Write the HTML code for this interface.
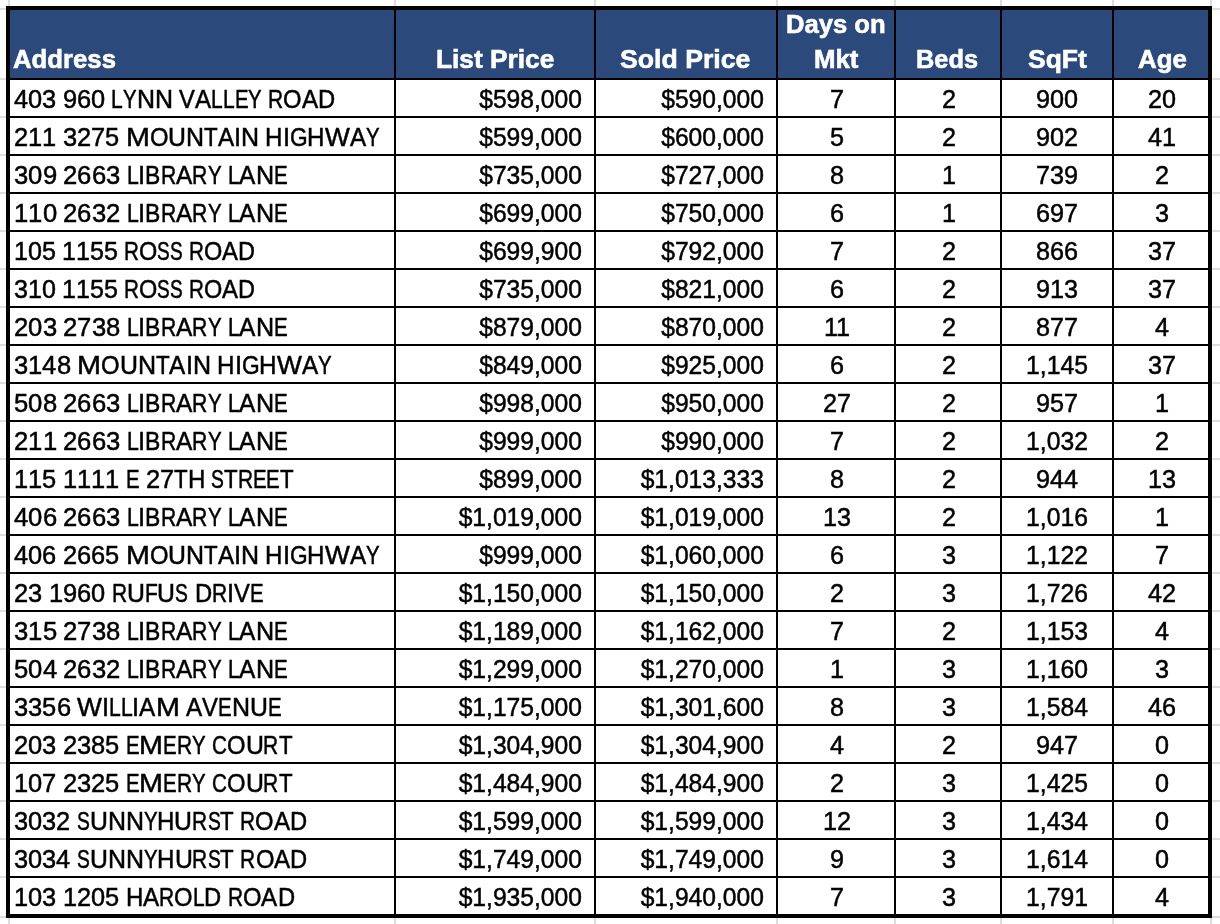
<!DOCTYPE html>
<html><head><meta charset="utf-8"><style>
html,body{margin:0;padding:0;background:#fff;}
body{width:1220px;height:924px;position:relative;overflow:hidden;font-family:"Liberation Sans",sans-serif;}
.r{position:absolute;}
.t{position:absolute;white-space:nowrap;color:#000;font-size:26px;line-height:38px;height:38px;}
.a{position:absolute;left:0;height:38px;width:1px;font-size:26px;line-height:38px;color:#000;}
.a i{position:absolute;top:0;font-style:normal;transform-origin:0 0;white-space:pre;}
.h{position:absolute;white-space:nowrap;color:#fff;font-weight:bold;font-size:26px;line-height:34px;}
body{-webkit-font-smoothing:antialiased;} .t,.a{-webkit-text-stroke:0.5px #000;} .h{-webkit-text-stroke:0.6px #fff;} .wrap{will-change:transform}
</style></head><body><div class="wrap" style="position:absolute;left:0;top:0;width:1220px;height:924px">

<div class="r" style="left:0px;top:8px;width:6px;height:2px;background:#dbdedb"></div>
<div class="r" style="left:1212px;top:8px;width:8px;height:2px;background:#dbdedb"></div>
<div class="r" style="left:8px;top:0px;width:2px;height:6px;background:#dbdedb"></div>
<div class="r" style="left:8px;top:918px;width:2px;height:6px;background:#dbdedb"></div>
<div class="r" style="left:394px;top:0px;width:2px;height:6px;background:#dbdedb"></div>
<div class="r" style="left:394px;top:918px;width:2px;height:6px;background:#dbdedb"></div>
<div class="r" style="left:594px;top:0px;width:2px;height:6px;background:#dbdedb"></div>
<div class="r" style="left:594px;top:918px;width:2px;height:6px;background:#dbdedb"></div>
<div class="r" style="left:776px;top:0px;width:2px;height:6px;background:#dbdedb"></div>
<div class="r" style="left:776px;top:918px;width:2px;height:6px;background:#dbdedb"></div>
<div class="r" style="left:894px;top:0px;width:2px;height:6px;background:#dbdedb"></div>
<div class="r" style="left:894px;top:918px;width:2px;height:6px;background:#dbdedb"></div>
<div class="r" style="left:1000px;top:0px;width:2px;height:6px;background:#dbdedb"></div>
<div class="r" style="left:1000px;top:918px;width:2px;height:6px;background:#dbdedb"></div>
<div class="r" style="left:1112px;top:0px;width:2px;height:6px;background:#dbdedb"></div>
<div class="r" style="left:1112px;top:918px;width:2px;height:6px;background:#dbdedb"></div>
<div class="r" style="left:1210px;top:0px;width:2px;height:6px;background:#dbdedb"></div>
<div class="r" style="left:1210px;top:918px;width:2px;height:6px;background:#dbdedb"></div>
<div class="r" style="left:0px;top:116px;width:6px;height:2px;background:#dbdedb"></div>
<div class="r" style="left:1212px;top:116px;width:8px;height:2px;background:#dbdedb"></div>
<div class="r" style="left:0px;top:154px;width:6px;height:2px;background:#dbdedb"></div>
<div class="r" style="left:1212px;top:154px;width:8px;height:2px;background:#dbdedb"></div>
<div class="r" style="left:0px;top:192px;width:6px;height:2px;background:#dbdedb"></div>
<div class="r" style="left:1212px;top:192px;width:8px;height:2px;background:#dbdedb"></div>
<div class="r" style="left:0px;top:230px;width:6px;height:2px;background:#dbdedb"></div>
<div class="r" style="left:1212px;top:230px;width:8px;height:2px;background:#dbdedb"></div>
<div class="r" style="left:0px;top:268px;width:6px;height:2px;background:#dbdedb"></div>
<div class="r" style="left:1212px;top:268px;width:8px;height:2px;background:#dbdedb"></div>
<div class="r" style="left:0px;top:306px;width:6px;height:2px;background:#dbdedb"></div>
<div class="r" style="left:1212px;top:306px;width:8px;height:2px;background:#dbdedb"></div>
<div class="r" style="left:0px;top:344px;width:6px;height:2px;background:#dbdedb"></div>
<div class="r" style="left:1212px;top:344px;width:8px;height:2px;background:#dbdedb"></div>
<div class="r" style="left:0px;top:382px;width:6px;height:2px;background:#dbdedb"></div>
<div class="r" style="left:1212px;top:382px;width:8px;height:2px;background:#dbdedb"></div>
<div class="r" style="left:0px;top:420px;width:6px;height:2px;background:#dbdedb"></div>
<div class="r" style="left:1212px;top:420px;width:8px;height:2px;background:#dbdedb"></div>
<div class="r" style="left:0px;top:458px;width:6px;height:2px;background:#dbdedb"></div>
<div class="r" style="left:1212px;top:458px;width:8px;height:2px;background:#dbdedb"></div>
<div class="r" style="left:0px;top:496px;width:6px;height:2px;background:#dbdedb"></div>
<div class="r" style="left:1212px;top:496px;width:8px;height:2px;background:#dbdedb"></div>
<div class="r" style="left:0px;top:534px;width:6px;height:2px;background:#dbdedb"></div>
<div class="r" style="left:1212px;top:534px;width:8px;height:2px;background:#dbdedb"></div>
<div class="r" style="left:0px;top:572px;width:6px;height:2px;background:#dbdedb"></div>
<div class="r" style="left:1212px;top:572px;width:8px;height:2px;background:#dbdedb"></div>
<div class="r" style="left:0px;top:610px;width:6px;height:2px;background:#dbdedb"></div>
<div class="r" style="left:1212px;top:610px;width:8px;height:2px;background:#dbdedb"></div>
<div class="r" style="left:0px;top:648px;width:6px;height:2px;background:#dbdedb"></div>
<div class="r" style="left:1212px;top:648px;width:8px;height:2px;background:#dbdedb"></div>
<div class="r" style="left:0px;top:686px;width:6px;height:2px;background:#dbdedb"></div>
<div class="r" style="left:1212px;top:686px;width:8px;height:2px;background:#dbdedb"></div>
<div class="r" style="left:0px;top:724px;width:6px;height:2px;background:#dbdedb"></div>
<div class="r" style="left:1212px;top:724px;width:8px;height:2px;background:#dbdedb"></div>
<div class="r" style="left:0px;top:762px;width:6px;height:2px;background:#dbdedb"></div>
<div class="r" style="left:1212px;top:762px;width:8px;height:2px;background:#dbdedb"></div>
<div class="r" style="left:0px;top:800px;width:6px;height:2px;background:#dbdedb"></div>
<div class="r" style="left:1212px;top:800px;width:8px;height:2px;background:#dbdedb"></div>
<div class="r" style="left:0px;top:838px;width:6px;height:2px;background:#dbdedb"></div>
<div class="r" style="left:1212px;top:838px;width:8px;height:2px;background:#dbdedb"></div>
<div class="r" style="left:0px;top:876px;width:6px;height:2px;background:#dbdedb"></div>
<div class="r" style="left:1212px;top:876px;width:8px;height:2px;background:#dbdedb"></div>
<div class="r" style="left:0px;top:78px;width:6px;height:2px;background:#dbdedb"></div>
<div class="r" style="left:1212px;top:78px;width:8px;height:2px;background:#dbdedb"></div>
<div class="r" style="left:0px;top:916px;width:6px;height:2px;background:#dbdedb"></div>
<div class="r" style="left:1212px;top:916px;width:8px;height:2px;background:#dbdedb"></div>
<div class="r" style="left:10px;top:10px;width:1198px;height:68px;background:#2b4a7b"></div>
<div class="r" style="left:394px;top:10px;width:2px;height:904px;background:#000"></div>
<div class="r" style="left:594px;top:10px;width:2px;height:904px;background:#000"></div>
<div class="r" style="left:776px;top:10px;width:2px;height:904px;background:#000"></div>
<div class="r" style="left:894px;top:10px;width:2px;height:904px;background:#000"></div>
<div class="r" style="left:1000px;top:10px;width:2px;height:904px;background:#000"></div>
<div class="r" style="left:1112px;top:10px;width:2px;height:904px;background:#000"></div>
<div class="r" style="left:10px;top:78px;width:1198px;height:2px;background:#000"></div>
<div class="r" style="left:10px;top:116px;width:1198px;height:2px;background:#000"></div>
<div class="r" style="left:10px;top:154px;width:1198px;height:2px;background:#000"></div>
<div class="r" style="left:10px;top:192px;width:1198px;height:2px;background:#000"></div>
<div class="r" style="left:10px;top:230px;width:1198px;height:2px;background:#000"></div>
<div class="r" style="left:10px;top:268px;width:1198px;height:2px;background:#000"></div>
<div class="r" style="left:10px;top:306px;width:1198px;height:2px;background:#000"></div>
<div class="r" style="left:10px;top:344px;width:1198px;height:2px;background:#000"></div>
<div class="r" style="left:10px;top:382px;width:1198px;height:2px;background:#000"></div>
<div class="r" style="left:10px;top:420px;width:1198px;height:2px;background:#000"></div>
<div class="r" style="left:10px;top:458px;width:1198px;height:2px;background:#000"></div>
<div class="r" style="left:10px;top:496px;width:1198px;height:2px;background:#000"></div>
<div class="r" style="left:10px;top:534px;width:1198px;height:2px;background:#000"></div>
<div class="r" style="left:10px;top:572px;width:1198px;height:2px;background:#000"></div>
<div class="r" style="left:10px;top:610px;width:1198px;height:2px;background:#000"></div>
<div class="r" style="left:10px;top:648px;width:1198px;height:2px;background:#000"></div>
<div class="r" style="left:10px;top:686px;width:1198px;height:2px;background:#000"></div>
<div class="r" style="left:10px;top:724px;width:1198px;height:2px;background:#000"></div>
<div class="r" style="left:10px;top:762px;width:1198px;height:2px;background:#000"></div>
<div class="r" style="left:10px;top:800px;width:1198px;height:2px;background:#000"></div>
<div class="r" style="left:10px;top:838px;width:1198px;height:2px;background:#000"></div>
<div class="r" style="left:10px;top:876px;width:1198px;height:2px;background:#000"></div>
<div class="r" style="left:6px;top:6px;width:1206px;height:4px;background:#000"></div>
<div class="r" style="left:6px;top:914px;width:1206px;height:4px;background:#000"></div>
<div class="r" style="left:6px;top:6px;width:4px;height:912px;background:#000"></div>
<div class="r" style="left:1208px;top:6px;width:4px;height:912px;background:#000"></div>
<div class="h" style="left:13.32px;top:41.99px;transform:scaleX(0.9897);transform-origin:0 0">Address</div>
<div class="h" style="left:436.39px;top:41.99px;transform:scaleX(1.0103);transform-origin:0 0">List Price</div>
<div class="h" style="left:620.49px;top:41.99px;transform:scaleX(1.0252);transform-origin:0 0">Sold Price</div>
<div class="h" style="left:785.96px;top:7.39px;transform:scaleX(0.9853);transform-origin:0 0">Days on</div>
<div class="h" style="left:813.75px;top:41.59px;transform:scaleX(0.9924);transform-origin:0 0">Mkt</div>
<div class="h" style="left:915.65px;top:41.99px;transform:scaleX(0.9755);transform-origin:0 0">Beds</div>
<div class="h" style="left:1028.41px;top:41.99px;transform:scaleX(1.0180);transform-origin:0 0">SqFt</div>
<div class="h" style="left:1137.69px;top:41.99px;transform:scaleX(0.9955);transform-origin:0 0">Age</div>
<div class="a" style="top:80px"><i style="left:14.00px;transform:scaleX(0.978)">4</i><i style="left:28.14px;transform:scaleX(0.978)">0</i><i style="left:42.29px;transform:scaleX(0.978)">3</i><i style="left:62.74px;transform:scaleX(0.978)">9</i><i style="left:76.89px;transform:scaleX(0.978)">6</i><i style="left:91.03px;transform:scaleX(0.978)">0</i><i style="left:111.49px;transform:scaleX(0.811)">L</i><i style="left:123.22px;transform:scaleX(0.784)">Y</i><i style="left:136.82px;transform:scaleX(0.959)">N</i><i style="left:154.83px;transform:scaleX(0.959)">N</i><i style="left:179.16px;transform:scaleX(0.913)">V</i><i style="left:194.99px;transform:scaleX(0.931)">A</i><i style="left:211.14px;transform:scaleX(0.811)">L</i><i style="left:222.87px;transform:scaleX(0.811)">L</i><i style="left:234.60px;transform:scaleX(0.786)">E</i><i style="left:248.23px;transform:scaleX(0.784)">Y</i><i style="left:268.14px;transform:scaleX(0.807)">R</i><i style="left:283.29px;transform:scaleX(0.914)">O</i><i style="left:301.77px;transform:scaleX(0.931)">A</i><i style="left:317.92px;transform:scaleX(0.914)">D</i></div>
<div class="t" style="left:282.40px;top:80px;width:300px;text-align:right;transform:scaleX(0.9480);transform-origin:100% 0">$598,000</div>
<div class="t" style="left:463.60px;top:80px;width:300px;text-align:right;transform:scaleX(0.9480);transform-origin:100% 0">$590,000</div>
<div class="t" style="left:737.00px;top:80px;width:200px;text-align:center;transform:scaleX(0.9700);transform-origin:50% 0">7</div>
<div class="t" style="left:849.00px;top:80px;width:200px;text-align:center;transform:scaleX(0.9700);transform-origin:50% 0">2</div>
<div class="t" style="left:957.00px;top:80px;width:200px;text-align:center;transform:scaleX(0.9700);transform-origin:50% 0">900</div>
<div class="t" style="left:1062.05px;top:80px;width:200px;text-align:center;transform:scaleX(0.9700);transform-origin:50% 0">20</div>
<div class="a" style="top:118px"><i style="left:14.00px;transform:scaleX(0.979)">2</i><i style="left:28.16px;transform:scaleX(0.979)">1</i><i style="left:42.31px;transform:scaleX(0.979)">1</i><i style="left:62.79px;transform:scaleX(0.979)">3</i><i style="left:76.94px;transform:scaleX(0.979)">2</i><i style="left:91.10px;transform:scaleX(0.979)">7</i><i style="left:105.26px;transform:scaleX(0.979)">5</i><i style="left:125.73px;transform:scaleX(1.103)">M</i><i style="left:149.61px;transform:scaleX(0.915)">O</i><i style="left:168.11px;transform:scaleX(0.954)">U</i><i style="left:186.03px;transform:scaleX(0.960)">N</i><i style="left:204.06px;transform:scaleX(0.857)">T</i><i style="left:217.67px;transform:scaleX(0.932)">A</i><i style="left:233.83px;transform:scaleX(0.974)">I</i><i style="left:240.87px;transform:scaleX(0.960)">N</i><i style="left:265.22px;transform:scaleX(0.927)">H</i><i style="left:282.62px;transform:scaleX(0.974)">I</i><i style="left:289.66px;transform:scaleX(0.871)">G</i><i style="left:307.28px;transform:scaleX(0.927)">H</i><i style="left:324.68px;transform:scaleX(1.013)">W</i><i style="left:349.53px;transform:scaleX(0.932)">A</i><i style="left:365.70px;transform:scaleX(0.785)">Y</i></div>
<div class="t" style="left:282.40px;top:118px;width:300px;text-align:right;transform:scaleX(0.9480);transform-origin:100% 0">$599,000</div>
<div class="t" style="left:463.60px;top:118px;width:300px;text-align:right;transform:scaleX(0.9480);transform-origin:100% 0">$600,000</div>
<div class="t" style="left:737.00px;top:118px;width:200px;text-align:center;transform:scaleX(0.9700);transform-origin:50% 0">5</div>
<div class="t" style="left:849.00px;top:118px;width:200px;text-align:center;transform:scaleX(0.9700);transform-origin:50% 0">2</div>
<div class="t" style="left:957.00px;top:118px;width:200px;text-align:center;transform:scaleX(0.9700);transform-origin:50% 0">902</div>
<div class="t" style="left:1062.05px;top:118px;width:200px;text-align:center;transform:scaleX(0.9700);transform-origin:50% 0">41</div>
<div class="a" style="top:156px"><i style="left:14.00px;transform:scaleX(0.986)">3</i><i style="left:28.26px;transform:scaleX(0.986)">0</i><i style="left:42.51px;transform:scaleX(0.986)">9</i><i style="left:63.13px;transform:scaleX(0.986)">2</i><i style="left:77.39px;transform:scaleX(0.986)">6</i><i style="left:91.64px;transform:scaleX(0.986)">6</i><i style="left:105.90px;transform:scaleX(0.986)">3</i><i style="left:126.52px;transform:scaleX(0.818)">L</i><i style="left:138.34px;transform:scaleX(0.981)">I</i><i style="left:145.43px;transform:scaleX(0.882)">B</i><i style="left:160.73px;transform:scaleX(0.813)">R</i><i style="left:176.00px;transform:scaleX(0.939)">A</i><i style="left:192.28px;transform:scaleX(0.813)">R</i><i style="left:207.55px;transform:scaleX(0.790)">Y</i><i style="left:227.62px;transform:scaleX(0.818)">L</i><i style="left:239.44px;transform:scaleX(0.939)">A</i><i style="left:255.72px;transform:scaleX(0.967)">N</i><i style="left:273.88px;transform:scaleX(0.792)">E</i></div>
<div class="t" style="left:282.40px;top:156px;width:300px;text-align:right;transform:scaleX(0.9480);transform-origin:100% 0">$735,000</div>
<div class="t" style="left:463.60px;top:156px;width:300px;text-align:right;transform:scaleX(0.9480);transform-origin:100% 0">$727,000</div>
<div class="t" style="left:737.00px;top:156px;width:200px;text-align:center;transform:scaleX(0.9700);transform-origin:50% 0">8</div>
<div class="t" style="left:849.00px;top:156px;width:200px;text-align:center;transform:scaleX(0.9700);transform-origin:50% 0">1</div>
<div class="t" style="left:957.00px;top:156px;width:200px;text-align:center;transform:scaleX(0.9700);transform-origin:50% 0">739</div>
<div class="t" style="left:1062.05px;top:156px;width:200px;text-align:center;transform:scaleX(0.9700);transform-origin:50% 0">2</div>
<div class="a" style="top:194px"><i style="left:14.00px;transform:scaleX(0.986)">1</i><i style="left:28.26px;transform:scaleX(0.986)">1</i><i style="left:42.51px;transform:scaleX(0.986)">0</i><i style="left:63.13px;transform:scaleX(0.986)">2</i><i style="left:77.39px;transform:scaleX(0.986)">6</i><i style="left:91.64px;transform:scaleX(0.986)">3</i><i style="left:105.90px;transform:scaleX(0.986)">2</i><i style="left:126.52px;transform:scaleX(0.818)">L</i><i style="left:138.34px;transform:scaleX(0.981)">I</i><i style="left:145.43px;transform:scaleX(0.882)">B</i><i style="left:160.73px;transform:scaleX(0.813)">R</i><i style="left:176.00px;transform:scaleX(0.939)">A</i><i style="left:192.28px;transform:scaleX(0.813)">R</i><i style="left:207.55px;transform:scaleX(0.790)">Y</i><i style="left:227.62px;transform:scaleX(0.818)">L</i><i style="left:239.44px;transform:scaleX(0.939)">A</i><i style="left:255.72px;transform:scaleX(0.967)">N</i><i style="left:273.88px;transform:scaleX(0.792)">E</i></div>
<div class="t" style="left:282.40px;top:194px;width:300px;text-align:right;transform:scaleX(0.9480);transform-origin:100% 0">$699,000</div>
<div class="t" style="left:463.60px;top:194px;width:300px;text-align:right;transform:scaleX(0.9480);transform-origin:100% 0">$750,000</div>
<div class="t" style="left:737.00px;top:194px;width:200px;text-align:center;transform:scaleX(0.9700);transform-origin:50% 0">6</div>
<div class="t" style="left:849.00px;top:194px;width:200px;text-align:center;transform:scaleX(0.9700);transform-origin:50% 0">1</div>
<div class="t" style="left:957.00px;top:194px;width:200px;text-align:center;transform:scaleX(0.9700);transform-origin:50% 0">697</div>
<div class="t" style="left:1062.05px;top:194px;width:200px;text-align:center;transform:scaleX(0.9700);transform-origin:50% 0">3</div>
<div class="a" style="top:232px"><i style="left:14.00px;transform:scaleX(0.965)">1</i><i style="left:27.96px;transform:scaleX(0.965)">0</i><i style="left:41.92px;transform:scaleX(0.965)">5</i><i style="left:62.11px;transform:scaleX(0.965)">1</i><i style="left:76.07px;transform:scaleX(0.965)">1</i><i style="left:90.03px;transform:scaleX(0.965)">5</i><i style="left:103.99px;transform:scaleX(0.965)">5</i><i style="left:124.17px;transform:scaleX(0.796)">R</i><i style="left:139.13px;transform:scaleX(0.902)">O</i><i style="left:157.37px;transform:scaleX(0.730)">S</i><i style="left:170.02px;transform:scaleX(0.730)">S</i><i style="left:188.90px;transform:scaleX(0.796)">R</i><i style="left:203.86px;transform:scaleX(0.902)">O</i><i style="left:222.10px;transform:scaleX(0.919)">A</i><i style="left:238.03px;transform:scaleX(0.903)">D</i></div>
<div class="t" style="left:282.40px;top:232px;width:300px;text-align:right;transform:scaleX(0.9480);transform-origin:100% 0">$699,900</div>
<div class="t" style="left:463.60px;top:232px;width:300px;text-align:right;transform:scaleX(0.9480);transform-origin:100% 0">$792,000</div>
<div class="t" style="left:737.00px;top:232px;width:200px;text-align:center;transform:scaleX(0.9700);transform-origin:50% 0">7</div>
<div class="t" style="left:849.00px;top:232px;width:200px;text-align:center;transform:scaleX(0.9700);transform-origin:50% 0">2</div>
<div class="t" style="left:957.00px;top:232px;width:200px;text-align:center;transform:scaleX(0.9700);transform-origin:50% 0">866</div>
<div class="t" style="left:1062.05px;top:232px;width:200px;text-align:center;transform:scaleX(0.9700);transform-origin:50% 0">37</div>
<div class="a" style="top:270px"><i style="left:14.00px;transform:scaleX(0.965)">3</i><i style="left:27.96px;transform:scaleX(0.965)">1</i><i style="left:41.92px;transform:scaleX(0.965)">0</i><i style="left:62.11px;transform:scaleX(0.965)">1</i><i style="left:76.07px;transform:scaleX(0.965)">1</i><i style="left:90.03px;transform:scaleX(0.965)">5</i><i style="left:103.99px;transform:scaleX(0.965)">5</i><i style="left:124.17px;transform:scaleX(0.796)">R</i><i style="left:139.13px;transform:scaleX(0.902)">O</i><i style="left:157.37px;transform:scaleX(0.730)">S</i><i style="left:170.02px;transform:scaleX(0.730)">S</i><i style="left:188.90px;transform:scaleX(0.796)">R</i><i style="left:203.86px;transform:scaleX(0.902)">O</i><i style="left:222.10px;transform:scaleX(0.919)">A</i><i style="left:238.03px;transform:scaleX(0.903)">D</i></div>
<div class="t" style="left:282.40px;top:270px;width:300px;text-align:right;transform:scaleX(0.9480);transform-origin:100% 0">$735,000</div>
<div class="t" style="left:463.60px;top:270px;width:300px;text-align:right;transform:scaleX(0.9480);transform-origin:100% 0">$821,000</div>
<div class="t" style="left:737.00px;top:270px;width:200px;text-align:center;transform:scaleX(0.9700);transform-origin:50% 0">6</div>
<div class="t" style="left:849.00px;top:270px;width:200px;text-align:center;transform:scaleX(0.9700);transform-origin:50% 0">2</div>
<div class="t" style="left:957.00px;top:270px;width:200px;text-align:center;transform:scaleX(0.9700);transform-origin:50% 0">913</div>
<div class="t" style="left:1062.05px;top:270px;width:200px;text-align:center;transform:scaleX(0.9700);transform-origin:50% 0">37</div>
<div class="a" style="top:308px"><i style="left:14.00px;transform:scaleX(0.986)">2</i><i style="left:28.26px;transform:scaleX(0.986)">0</i><i style="left:42.51px;transform:scaleX(0.986)">3</i><i style="left:63.13px;transform:scaleX(0.986)">2</i><i style="left:77.39px;transform:scaleX(0.986)">7</i><i style="left:91.64px;transform:scaleX(0.986)">3</i><i style="left:105.90px;transform:scaleX(0.986)">8</i><i style="left:126.52px;transform:scaleX(0.818)">L</i><i style="left:138.34px;transform:scaleX(0.981)">I</i><i style="left:145.43px;transform:scaleX(0.882)">B</i><i style="left:160.73px;transform:scaleX(0.813)">R</i><i style="left:176.00px;transform:scaleX(0.939)">A</i><i style="left:192.28px;transform:scaleX(0.813)">R</i><i style="left:207.55px;transform:scaleX(0.790)">Y</i><i style="left:227.62px;transform:scaleX(0.818)">L</i><i style="left:239.44px;transform:scaleX(0.939)">A</i><i style="left:255.72px;transform:scaleX(0.967)">N</i><i style="left:273.88px;transform:scaleX(0.792)">E</i></div>
<div class="t" style="left:282.40px;top:308px;width:300px;text-align:right;transform:scaleX(0.9480);transform-origin:100% 0">$879,000</div>
<div class="t" style="left:463.60px;top:308px;width:300px;text-align:right;transform:scaleX(0.9480);transform-origin:100% 0">$870,000</div>
<div class="t" style="left:737.00px;top:308px;width:200px;text-align:center;transform:scaleX(0.9700);transform-origin:50% 0">11</div>
<div class="t" style="left:849.00px;top:308px;width:200px;text-align:center;transform:scaleX(0.9700);transform-origin:50% 0">2</div>
<div class="t" style="left:957.00px;top:308px;width:200px;text-align:center;transform:scaleX(0.9700);transform-origin:50% 0">877</div>
<div class="t" style="left:1062.05px;top:308px;width:200px;text-align:center;transform:scaleX(0.9700);transform-origin:50% 0">4</div>
<div class="a" style="top:346px"><i style="left:14.00px;transform:scaleX(0.982)">3</i><i style="left:28.20px;transform:scaleX(0.982)">1</i><i style="left:42.40px;transform:scaleX(0.982)">4</i><i style="left:56.60px;transform:scaleX(0.982)">8</i><i style="left:77.14px;transform:scaleX(1.106)">M</i><i style="left:101.10px;transform:scaleX(0.917)">O</i><i style="left:119.65px;transform:scaleX(0.957)">U</i><i style="left:137.63px;transform:scaleX(0.963)">N</i><i style="left:155.71px;transform:scaleX(0.860)">T</i><i style="left:169.37px;transform:scaleX(0.935)">A</i><i style="left:185.58px;transform:scaleX(0.977)">I</i><i style="left:192.64px;transform:scaleX(0.963)">N</i><i style="left:217.06px;transform:scaleX(0.930)">H</i><i style="left:234.52px;transform:scaleX(0.977)">I</i><i style="left:241.58px;transform:scaleX(0.874)">G</i><i style="left:259.25px;transform:scaleX(0.930)">H</i><i style="left:276.71px;transform:scaleX(1.016)">W</i><i style="left:301.64px;transform:scaleX(0.935)">A</i><i style="left:317.85px;transform:scaleX(0.787)">Y</i></div>
<div class="t" style="left:282.40px;top:346px;width:300px;text-align:right;transform:scaleX(0.9480);transform-origin:100% 0">$849,000</div>
<div class="t" style="left:463.60px;top:346px;width:300px;text-align:right;transform:scaleX(0.9480);transform-origin:100% 0">$925,000</div>
<div class="t" style="left:737.00px;top:346px;width:200px;text-align:center;transform:scaleX(0.9700);transform-origin:50% 0">6</div>
<div class="t" style="left:849.00px;top:346px;width:200px;text-align:center;transform:scaleX(0.9700);transform-origin:50% 0">2</div>
<div class="t" style="left:957.00px;top:346px;width:200px;text-align:center;transform:scaleX(0.9500);transform-origin:50% 0">1,145</div>
<div class="t" style="left:1062.05px;top:346px;width:200px;text-align:center;transform:scaleX(0.9700);transform-origin:50% 0">37</div>
<div class="a" style="top:384px"><i style="left:14.00px;transform:scaleX(0.986)">5</i><i style="left:28.26px;transform:scaleX(0.986)">0</i><i style="left:42.51px;transform:scaleX(0.986)">8</i><i style="left:63.13px;transform:scaleX(0.986)">2</i><i style="left:77.39px;transform:scaleX(0.986)">6</i><i style="left:91.64px;transform:scaleX(0.986)">6</i><i style="left:105.90px;transform:scaleX(0.986)">3</i><i style="left:126.52px;transform:scaleX(0.818)">L</i><i style="left:138.34px;transform:scaleX(0.981)">I</i><i style="left:145.43px;transform:scaleX(0.882)">B</i><i style="left:160.73px;transform:scaleX(0.813)">R</i><i style="left:176.00px;transform:scaleX(0.939)">A</i><i style="left:192.28px;transform:scaleX(0.813)">R</i><i style="left:207.55px;transform:scaleX(0.790)">Y</i><i style="left:227.62px;transform:scaleX(0.818)">L</i><i style="left:239.44px;transform:scaleX(0.939)">A</i><i style="left:255.72px;transform:scaleX(0.967)">N</i><i style="left:273.88px;transform:scaleX(0.792)">E</i></div>
<div class="t" style="left:282.40px;top:384px;width:300px;text-align:right;transform:scaleX(0.9480);transform-origin:100% 0">$998,000</div>
<div class="t" style="left:463.60px;top:384px;width:300px;text-align:right;transform:scaleX(0.9480);transform-origin:100% 0">$950,000</div>
<div class="t" style="left:737.00px;top:384px;width:200px;text-align:center;transform:scaleX(0.9700);transform-origin:50% 0">27</div>
<div class="t" style="left:849.00px;top:384px;width:200px;text-align:center;transform:scaleX(0.9700);transform-origin:50% 0">2</div>
<div class="t" style="left:957.00px;top:384px;width:200px;text-align:center;transform:scaleX(0.9700);transform-origin:50% 0">957</div>
<div class="t" style="left:1062.05px;top:384px;width:200px;text-align:center;transform:scaleX(0.9700);transform-origin:50% 0">1</div>
<div class="a" style="top:422px"><i style="left:14.00px;transform:scaleX(0.986)">2</i><i style="left:28.26px;transform:scaleX(0.986)">1</i><i style="left:42.51px;transform:scaleX(0.986)">1</i><i style="left:63.13px;transform:scaleX(0.986)">2</i><i style="left:77.39px;transform:scaleX(0.986)">6</i><i style="left:91.64px;transform:scaleX(0.986)">6</i><i style="left:105.90px;transform:scaleX(0.986)">3</i><i style="left:126.52px;transform:scaleX(0.818)">L</i><i style="left:138.34px;transform:scaleX(0.981)">I</i><i style="left:145.43px;transform:scaleX(0.882)">B</i><i style="left:160.73px;transform:scaleX(0.813)">R</i><i style="left:176.00px;transform:scaleX(0.939)">A</i><i style="left:192.28px;transform:scaleX(0.813)">R</i><i style="left:207.55px;transform:scaleX(0.790)">Y</i><i style="left:227.62px;transform:scaleX(0.818)">L</i><i style="left:239.44px;transform:scaleX(0.939)">A</i><i style="left:255.72px;transform:scaleX(0.967)">N</i><i style="left:273.88px;transform:scaleX(0.792)">E</i></div>
<div class="t" style="left:282.40px;top:422px;width:300px;text-align:right;transform:scaleX(0.9480);transform-origin:100% 0">$999,000</div>
<div class="t" style="left:463.60px;top:422px;width:300px;text-align:right;transform:scaleX(0.9480);transform-origin:100% 0">$990,000</div>
<div class="t" style="left:737.00px;top:422px;width:200px;text-align:center;transform:scaleX(0.9700);transform-origin:50% 0">7</div>
<div class="t" style="left:849.00px;top:422px;width:200px;text-align:center;transform:scaleX(0.9700);transform-origin:50% 0">2</div>
<div class="t" style="left:957.00px;top:422px;width:200px;text-align:center;transform:scaleX(0.9500);transform-origin:50% 0">1,032</div>
<div class="t" style="left:1062.05px;top:422px;width:200px;text-align:center;transform:scaleX(0.9700);transform-origin:50% 0">2</div>
<div class="a" style="top:460px"><i style="left:14.00px;transform:scaleX(0.979)">1</i><i style="left:28.15px;transform:scaleX(0.979)">1</i><i style="left:42.30px;transform:scaleX(0.979)">5</i><i style="left:62.76px;transform:scaleX(0.979)">1</i><i style="left:76.91px;transform:scaleX(0.979)">1</i><i style="left:91.06px;transform:scaleX(0.979)">1</i><i style="left:105.21px;transform:scaleX(0.979)">1</i><i style="left:125.68px;transform:scaleX(0.786)">E</i><i style="left:145.62px;transform:scaleX(0.979)">2</i><i style="left:159.77px;transform:scaleX(0.979)">7</i><i style="left:173.92px;transform:scaleX(0.857)">T</i><i style="left:187.52px;transform:scaleX(0.926)">H</i><i style="left:211.23px;transform:scaleX(0.740)">S</i><i style="left:224.06px;transform:scaleX(0.857)">T</i><i style="left:237.66px;transform:scaleX(0.807)">R</i><i style="left:252.82px;transform:scaleX(0.786)">E</i><i style="left:266.46px;transform:scaleX(0.786)">E</i><i style="left:280.09px;transform:scaleX(0.857)">T</i></div>
<div class="t" style="left:282.40px;top:460px;width:300px;text-align:right;transform:scaleX(0.9480);transform-origin:100% 0">$899,000</div>
<div class="t" style="left:463.60px;top:460px;width:300px;text-align:right;transform:scaleX(0.9480);transform-origin:100% 0">$1,013,333</div>
<div class="t" style="left:737.00px;top:460px;width:200px;text-align:center;transform:scaleX(0.9700);transform-origin:50% 0">8</div>
<div class="t" style="left:849.00px;top:460px;width:200px;text-align:center;transform:scaleX(0.9700);transform-origin:50% 0">2</div>
<div class="t" style="left:957.00px;top:460px;width:200px;text-align:center;transform:scaleX(0.9700);transform-origin:50% 0">944</div>
<div class="t" style="left:1062.05px;top:460px;width:200px;text-align:center;transform:scaleX(0.9700);transform-origin:50% 0">13</div>
<div class="a" style="top:498px"><i style="left:14.00px;transform:scaleX(0.986)">4</i><i style="left:28.26px;transform:scaleX(0.986)">0</i><i style="left:42.51px;transform:scaleX(0.986)">6</i><i style="left:63.13px;transform:scaleX(0.986)">2</i><i style="left:77.39px;transform:scaleX(0.986)">6</i><i style="left:91.64px;transform:scaleX(0.986)">6</i><i style="left:105.90px;transform:scaleX(0.986)">3</i><i style="left:126.52px;transform:scaleX(0.818)">L</i><i style="left:138.34px;transform:scaleX(0.981)">I</i><i style="left:145.43px;transform:scaleX(0.882)">B</i><i style="left:160.73px;transform:scaleX(0.813)">R</i><i style="left:176.00px;transform:scaleX(0.939)">A</i><i style="left:192.28px;transform:scaleX(0.813)">R</i><i style="left:207.55px;transform:scaleX(0.790)">Y</i><i style="left:227.62px;transform:scaleX(0.818)">L</i><i style="left:239.44px;transform:scaleX(0.939)">A</i><i style="left:255.72px;transform:scaleX(0.967)">N</i><i style="left:273.88px;transform:scaleX(0.792)">E</i></div>
<div class="t" style="left:282.40px;top:498px;width:300px;text-align:right;transform:scaleX(0.9480);transform-origin:100% 0">$1,019,000</div>
<div class="t" style="left:463.60px;top:498px;width:300px;text-align:right;transform:scaleX(0.9480);transform-origin:100% 0">$1,019,000</div>
<div class="t" style="left:737.00px;top:498px;width:200px;text-align:center;transform:scaleX(0.9700);transform-origin:50% 0">13</div>
<div class="t" style="left:849.00px;top:498px;width:200px;text-align:center;transform:scaleX(0.9700);transform-origin:50% 0">2</div>
<div class="t" style="left:957.00px;top:498px;width:200px;text-align:center;transform:scaleX(0.9500);transform-origin:50% 0">1,016</div>
<div class="t" style="left:1062.05px;top:498px;width:200px;text-align:center;transform:scaleX(0.9700);transform-origin:50% 0">1</div>
<div class="a" style="top:536px"><i style="left:14.00px;transform:scaleX(0.979)">4</i><i style="left:28.16px;transform:scaleX(0.979)">0</i><i style="left:42.31px;transform:scaleX(0.979)">6</i><i style="left:62.79px;transform:scaleX(0.979)">2</i><i style="left:76.94px;transform:scaleX(0.979)">6</i><i style="left:91.10px;transform:scaleX(0.979)">6</i><i style="left:105.26px;transform:scaleX(0.979)">5</i><i style="left:125.73px;transform:scaleX(1.103)">M</i><i style="left:149.61px;transform:scaleX(0.915)">O</i><i style="left:168.11px;transform:scaleX(0.954)">U</i><i style="left:186.03px;transform:scaleX(0.960)">N</i><i style="left:204.06px;transform:scaleX(0.857)">T</i><i style="left:217.67px;transform:scaleX(0.932)">A</i><i style="left:233.83px;transform:scaleX(0.974)">I</i><i style="left:240.87px;transform:scaleX(0.960)">N</i><i style="left:265.22px;transform:scaleX(0.927)">H</i><i style="left:282.62px;transform:scaleX(0.974)">I</i><i style="left:289.66px;transform:scaleX(0.871)">G</i><i style="left:307.28px;transform:scaleX(0.927)">H</i><i style="left:324.68px;transform:scaleX(1.013)">W</i><i style="left:349.53px;transform:scaleX(0.932)">A</i><i style="left:365.70px;transform:scaleX(0.785)">Y</i></div>
<div class="t" style="left:282.40px;top:536px;width:300px;text-align:right;transform:scaleX(0.9480);transform-origin:100% 0">$999,000</div>
<div class="t" style="left:463.60px;top:536px;width:300px;text-align:right;transform:scaleX(0.9480);transform-origin:100% 0">$1,060,000</div>
<div class="t" style="left:737.00px;top:536px;width:200px;text-align:center;transform:scaleX(0.9700);transform-origin:50% 0">6</div>
<div class="t" style="left:849.00px;top:536px;width:200px;text-align:center;transform:scaleX(0.9700);transform-origin:50% 0">3</div>
<div class="t" style="left:957.00px;top:536px;width:200px;text-align:center;transform:scaleX(0.9500);transform-origin:50% 0">1,122</div>
<div class="t" style="left:1062.05px;top:536px;width:200px;text-align:center;transform:scaleX(0.9700);transform-origin:50% 0">7</div>
<div class="a" style="top:574px"><i style="left:14.00px;transform:scaleX(0.979)">2</i><i style="left:28.15px;transform:scaleX(0.979)">3</i><i style="left:48.62px;transform:scaleX(0.979)">1</i><i style="left:62.78px;transform:scaleX(0.979)">9</i><i style="left:76.93px;transform:scaleX(0.979)">6</i><i style="left:91.09px;transform:scaleX(0.979)">0</i><i style="left:111.55px;transform:scaleX(0.808)">R</i><i style="left:126.72px;transform:scaleX(0.954)">U</i><i style="left:144.64px;transform:scaleX(0.808)">F</i><i style="left:157.47px;transform:scaleX(0.954)">U</i><i style="left:175.39px;transform:scaleX(0.740)">S</i><i style="left:194.53px;transform:scaleX(0.915)">D</i><i style="left:211.71px;transform:scaleX(0.808)">R</i><i style="left:226.88px;transform:scaleX(0.974)">I</i><i style="left:233.91px;transform:scaleX(0.914)">V</i><i style="left:249.76px;transform:scaleX(0.786)">E</i></div>
<div class="t" style="left:282.40px;top:574px;width:300px;text-align:right;transform:scaleX(0.9480);transform-origin:100% 0">$1,150,000</div>
<div class="t" style="left:463.60px;top:574px;width:300px;text-align:right;transform:scaleX(0.9480);transform-origin:100% 0">$1,150,000</div>
<div class="t" style="left:737.00px;top:574px;width:200px;text-align:center;transform:scaleX(0.9700);transform-origin:50% 0">2</div>
<div class="t" style="left:849.00px;top:574px;width:200px;text-align:center;transform:scaleX(0.9700);transform-origin:50% 0">3</div>
<div class="t" style="left:957.00px;top:574px;width:200px;text-align:center;transform:scaleX(0.9500);transform-origin:50% 0">1,726</div>
<div class="t" style="left:1062.05px;top:574px;width:200px;text-align:center;transform:scaleX(0.9700);transform-origin:50% 0">42</div>
<div class="a" style="top:612px"><i style="left:14.00px;transform:scaleX(0.986)">3</i><i style="left:28.26px;transform:scaleX(0.986)">1</i><i style="left:42.51px;transform:scaleX(0.986)">5</i><i style="left:63.13px;transform:scaleX(0.986)">2</i><i style="left:77.39px;transform:scaleX(0.986)">7</i><i style="left:91.64px;transform:scaleX(0.986)">3</i><i style="left:105.90px;transform:scaleX(0.986)">8</i><i style="left:126.52px;transform:scaleX(0.818)">L</i><i style="left:138.34px;transform:scaleX(0.981)">I</i><i style="left:145.43px;transform:scaleX(0.882)">B</i><i style="left:160.73px;transform:scaleX(0.813)">R</i><i style="left:176.00px;transform:scaleX(0.939)">A</i><i style="left:192.28px;transform:scaleX(0.813)">R</i><i style="left:207.55px;transform:scaleX(0.790)">Y</i><i style="left:227.62px;transform:scaleX(0.818)">L</i><i style="left:239.44px;transform:scaleX(0.939)">A</i><i style="left:255.72px;transform:scaleX(0.967)">N</i><i style="left:273.88px;transform:scaleX(0.792)">E</i></div>
<div class="t" style="left:282.40px;top:612px;width:300px;text-align:right;transform:scaleX(0.9480);transform-origin:100% 0">$1,189,000</div>
<div class="t" style="left:463.60px;top:612px;width:300px;text-align:right;transform:scaleX(0.9480);transform-origin:100% 0">$1,162,000</div>
<div class="t" style="left:737.00px;top:612px;width:200px;text-align:center;transform:scaleX(0.9700);transform-origin:50% 0">7</div>
<div class="t" style="left:849.00px;top:612px;width:200px;text-align:center;transform:scaleX(0.9700);transform-origin:50% 0">2</div>
<div class="t" style="left:957.00px;top:612px;width:200px;text-align:center;transform:scaleX(0.9500);transform-origin:50% 0">1,153</div>
<div class="t" style="left:1062.05px;top:612px;width:200px;text-align:center;transform:scaleX(0.9700);transform-origin:50% 0">4</div>
<div class="a" style="top:650px"><i style="left:14.00px;transform:scaleX(0.986)">5</i><i style="left:28.26px;transform:scaleX(0.986)">0</i><i style="left:42.51px;transform:scaleX(0.986)">4</i><i style="left:63.13px;transform:scaleX(0.986)">2</i><i style="left:77.39px;transform:scaleX(0.986)">6</i><i style="left:91.64px;transform:scaleX(0.986)">3</i><i style="left:105.90px;transform:scaleX(0.986)">2</i><i style="left:126.52px;transform:scaleX(0.818)">L</i><i style="left:138.34px;transform:scaleX(0.981)">I</i><i style="left:145.43px;transform:scaleX(0.882)">B</i><i style="left:160.73px;transform:scaleX(0.813)">R</i><i style="left:176.00px;transform:scaleX(0.939)">A</i><i style="left:192.28px;transform:scaleX(0.813)">R</i><i style="left:207.55px;transform:scaleX(0.790)">Y</i><i style="left:227.62px;transform:scaleX(0.818)">L</i><i style="left:239.44px;transform:scaleX(0.939)">A</i><i style="left:255.72px;transform:scaleX(0.967)">N</i><i style="left:273.88px;transform:scaleX(0.792)">E</i></div>
<div class="t" style="left:282.40px;top:650px;width:300px;text-align:right;transform:scaleX(0.9480);transform-origin:100% 0">$1,299,000</div>
<div class="t" style="left:463.60px;top:650px;width:300px;text-align:right;transform:scaleX(0.9480);transform-origin:100% 0">$1,270,000</div>
<div class="t" style="left:737.00px;top:650px;width:200px;text-align:center;transform:scaleX(0.9700);transform-origin:50% 0">1</div>
<div class="t" style="left:849.00px;top:650px;width:200px;text-align:center;transform:scaleX(0.9700);transform-origin:50% 0">3</div>
<div class="t" style="left:957.00px;top:650px;width:200px;text-align:center;transform:scaleX(0.9500);transform-origin:50% 0">1,160</div>
<div class="t" style="left:1062.05px;top:650px;width:200px;text-align:center;transform:scaleX(0.9700);transform-origin:50% 0">3</div>
<div class="a" style="top:688px"><i style="left:14.00px;transform:scaleX(0.980)">3</i><i style="left:28.17px;transform:scaleX(0.980)">3</i><i style="left:42.34px;transform:scaleX(0.980)">5</i><i style="left:56.51px;transform:scaleX(0.980)">6</i><i style="left:77.00px;transform:scaleX(1.014)">W</i><i style="left:101.87px;transform:scaleX(0.975)">I</i><i style="left:108.92px;transform:scaleX(0.813)">L</i><i style="left:120.67px;transform:scaleX(0.813)">L</i><i style="left:132.43px;transform:scaleX(0.975)">I</i><i style="left:139.47px;transform:scaleX(0.933)">A</i><i style="left:155.65px;transform:scaleX(1.104)">M</i><i style="left:185.87px;transform:scaleX(0.933)">A</i><i style="left:202.05px;transform:scaleX(0.915)">V</i><i style="left:217.91px;transform:scaleX(0.787)">E</i><i style="left:231.56px;transform:scaleX(0.961)">N</i><i style="left:249.61px;transform:scaleX(0.955)">U</i><i style="left:267.55px;transform:scaleX(0.787)">E</i></div>
<div class="t" style="left:282.40px;top:688px;width:300px;text-align:right;transform:scaleX(0.9480);transform-origin:100% 0">$1,175,000</div>
<div class="t" style="left:463.60px;top:688px;width:300px;text-align:right;transform:scaleX(0.9480);transform-origin:100% 0">$1,301,600</div>
<div class="t" style="left:737.00px;top:688px;width:200px;text-align:center;transform:scaleX(0.9700);transform-origin:50% 0">8</div>
<div class="t" style="left:849.00px;top:688px;width:200px;text-align:center;transform:scaleX(0.9700);transform-origin:50% 0">3</div>
<div class="t" style="left:957.00px;top:688px;width:200px;text-align:center;transform:scaleX(0.9500);transform-origin:50% 0">1,584</div>
<div class="t" style="left:1062.05px;top:688px;width:200px;text-align:center;transform:scaleX(0.9700);transform-origin:50% 0">46</div>
<div class="a" style="top:726px"><i style="left:14.00px;transform:scaleX(0.980)">2</i><i style="left:28.17px;transform:scaleX(0.980)">0</i><i style="left:42.34px;transform:scaleX(0.980)">3</i><i style="left:62.83px;transform:scaleX(0.980)">2</i><i style="left:76.99px;transform:scaleX(0.980)">3</i><i style="left:91.16px;transform:scaleX(0.980)">8</i><i style="left:105.33px;transform:scaleX(0.980)">5</i><i style="left:125.82px;transform:scaleX(0.787)">E</i><i style="left:139.47px;transform:scaleX(1.104)">M</i><i style="left:163.37px;transform:scaleX(0.787)">E</i><i style="left:177.02px;transform:scaleX(0.808)">R</i><i style="left:192.20px;transform:scaleX(0.786)">Y</i><i style="left:212.14px;transform:scaleX(0.794)">C</i><i style="left:227.05px;transform:scaleX(0.915)">O</i><i style="left:245.56px;transform:scaleX(0.955)">U</i><i style="left:263.49px;transform:scaleX(0.808)">R</i><i style="left:278.67px;transform:scaleX(0.858)">T</i></div>
<div class="t" style="left:282.40px;top:726px;width:300px;text-align:right;transform:scaleX(0.9480);transform-origin:100% 0">$1,304,900</div>
<div class="t" style="left:463.60px;top:726px;width:300px;text-align:right;transform:scaleX(0.9480);transform-origin:100% 0">$1,304,900</div>
<div class="t" style="left:737.00px;top:726px;width:200px;text-align:center;transform:scaleX(0.9700);transform-origin:50% 0">4</div>
<div class="t" style="left:849.00px;top:726px;width:200px;text-align:center;transform:scaleX(0.9700);transform-origin:50% 0">2</div>
<div class="t" style="left:957.00px;top:726px;width:200px;text-align:center;transform:scaleX(0.9700);transform-origin:50% 0">947</div>
<div class="t" style="left:1062.05px;top:726px;width:200px;text-align:center;transform:scaleX(0.9700);transform-origin:50% 0">0</div>
<div class="a" style="top:764px"><i style="left:14.00px;transform:scaleX(0.980)">1</i><i style="left:28.17px;transform:scaleX(0.980)">0</i><i style="left:42.34px;transform:scaleX(0.980)">7</i><i style="left:62.83px;transform:scaleX(0.980)">2</i><i style="left:76.99px;transform:scaleX(0.980)">3</i><i style="left:91.16px;transform:scaleX(0.980)">2</i><i style="left:105.33px;transform:scaleX(0.980)">5</i><i style="left:125.82px;transform:scaleX(0.787)">E</i><i style="left:139.47px;transform:scaleX(1.104)">M</i><i style="left:163.37px;transform:scaleX(0.787)">E</i><i style="left:177.02px;transform:scaleX(0.808)">R</i><i style="left:192.20px;transform:scaleX(0.786)">Y</i><i style="left:212.14px;transform:scaleX(0.794)">C</i><i style="left:227.05px;transform:scaleX(0.915)">O</i><i style="left:245.56px;transform:scaleX(0.955)">U</i><i style="left:263.49px;transform:scaleX(0.808)">R</i><i style="left:278.67px;transform:scaleX(0.858)">T</i></div>
<div class="t" style="left:282.40px;top:764px;width:300px;text-align:right;transform:scaleX(0.9480);transform-origin:100% 0">$1,484,900</div>
<div class="t" style="left:463.60px;top:764px;width:300px;text-align:right;transform:scaleX(0.9480);transform-origin:100% 0">$1,484,900</div>
<div class="t" style="left:737.00px;top:764px;width:200px;text-align:center;transform:scaleX(0.9700);transform-origin:50% 0">2</div>
<div class="t" style="left:849.00px;top:764px;width:200px;text-align:center;transform:scaleX(0.9700);transform-origin:50% 0">3</div>
<div class="t" style="left:957.00px;top:764px;width:200px;text-align:center;transform:scaleX(0.9500);transform-origin:50% 0">1,425</div>
<div class="t" style="left:1062.05px;top:764px;width:200px;text-align:center;transform:scaleX(0.9700);transform-origin:50% 0">0</div>
<div class="a" style="top:802px"><i style="left:14.00px;transform:scaleX(0.977)">3</i><i style="left:28.13px;transform:scaleX(0.977)">0</i><i style="left:42.26px;transform:scaleX(0.977)">3</i><i style="left:56.40px;transform:scaleX(0.977)">2</i><i style="left:76.83px;transform:scaleX(0.739)">S</i><i style="left:89.64px;transform:scaleX(0.953)">U</i><i style="left:107.53px;transform:scaleX(0.959)">N</i><i style="left:125.53px;transform:scaleX(0.959)">N</i><i style="left:143.53px;transform:scaleX(0.783)">Y</i><i style="left:157.12px;transform:scaleX(0.925)">H</i><i style="left:174.49px;transform:scaleX(0.953)">U</i><i style="left:192.38px;transform:scaleX(0.806)">R</i><i style="left:207.52px;transform:scaleX(0.739)">S</i><i style="left:220.33px;transform:scaleX(0.856)">T</i><i style="left:240.22px;transform:scaleX(0.806)">R</i><i style="left:255.36px;transform:scaleX(0.913)">O</i><i style="left:273.82px;transform:scaleX(0.930)">A</i><i style="left:289.95px;transform:scaleX(0.914)">D</i></div>
<div class="t" style="left:282.40px;top:802px;width:300px;text-align:right;transform:scaleX(0.9480);transform-origin:100% 0">$1,599,000</div>
<div class="t" style="left:463.60px;top:802px;width:300px;text-align:right;transform:scaleX(0.9480);transform-origin:100% 0">$1,599,000</div>
<div class="t" style="left:737.00px;top:802px;width:200px;text-align:center;transform:scaleX(0.9700);transform-origin:50% 0">12</div>
<div class="t" style="left:849.00px;top:802px;width:200px;text-align:center;transform:scaleX(0.9700);transform-origin:50% 0">3</div>
<div class="t" style="left:957.00px;top:802px;width:200px;text-align:center;transform:scaleX(0.9500);transform-origin:50% 0">1,434</div>
<div class="t" style="left:1062.05px;top:802px;width:200px;text-align:center;transform:scaleX(0.9700);transform-origin:50% 0">0</div>
<div class="a" style="top:840px"><i style="left:14.00px;transform:scaleX(0.978)">3</i><i style="left:28.14px;transform:scaleX(0.978)">0</i><i style="left:42.28px;transform:scaleX(0.978)">3</i><i style="left:56.42px;transform:scaleX(0.978)">4</i><i style="left:76.87px;transform:scaleX(0.739)">S</i><i style="left:89.69px;transform:scaleX(0.953)">U</i><i style="left:107.59px;transform:scaleX(0.959)">N</i><i style="left:125.60px;transform:scaleX(0.959)">N</i><i style="left:143.61px;transform:scaleX(0.784)">Y</i><i style="left:157.20px;transform:scaleX(0.926)">H</i><i style="left:174.58px;transform:scaleX(0.953)">U</i><i style="left:192.48px;transform:scaleX(0.807)">R</i><i style="left:207.63px;transform:scaleX(0.739)">S</i><i style="left:220.45px;transform:scaleX(0.856)">T</i><i style="left:240.35px;transform:scaleX(0.807)">R</i><i style="left:255.50px;transform:scaleX(0.913)">O</i><i style="left:273.97px;transform:scaleX(0.931)">A</i><i style="left:290.12px;transform:scaleX(0.914)">D</i></div>
<div class="t" style="left:282.40px;top:840px;width:300px;text-align:right;transform:scaleX(0.9480);transform-origin:100% 0">$1,749,000</div>
<div class="t" style="left:463.60px;top:840px;width:300px;text-align:right;transform:scaleX(0.9480);transform-origin:100% 0">$1,749,000</div>
<div class="t" style="left:737.00px;top:840px;width:200px;text-align:center;transform:scaleX(0.9700);transform-origin:50% 0">9</div>
<div class="t" style="left:849.00px;top:840px;width:200px;text-align:center;transform:scaleX(0.9700);transform-origin:50% 0">3</div>
<div class="t" style="left:957.00px;top:840px;width:200px;text-align:center;transform:scaleX(0.9500);transform-origin:50% 0">1,614</div>
<div class="t" style="left:1062.05px;top:840px;width:200px;text-align:center;transform:scaleX(0.9700);transform-origin:50% 0">0</div>
<div class="a" style="top:878px"><i style="left:14.00px;transform:scaleX(0.977)">1</i><i style="left:28.13px;transform:scaleX(0.977)">0</i><i style="left:42.26px;transform:scaleX(0.977)">3</i><i style="left:62.70px;transform:scaleX(0.977)">1</i><i style="left:76.83px;transform:scaleX(0.977)">2</i><i style="left:90.96px;transform:scaleX(0.977)">0</i><i style="left:105.09px;transform:scaleX(0.977)">5</i><i style="left:125.53px;transform:scaleX(0.925)">H</i><i style="left:142.90px;transform:scaleX(0.930)">A</i><i style="left:159.03px;transform:scaleX(0.806)">R</i><i style="left:174.17px;transform:scaleX(0.913)">O</i><i style="left:192.64px;transform:scaleX(0.811)">L</i><i style="left:204.36px;transform:scaleX(0.914)">D</i><i style="left:227.81px;transform:scaleX(0.806)">R</i><i style="left:242.95px;transform:scaleX(0.913)">O</i><i style="left:261.42px;transform:scaleX(0.930)">A</i><i style="left:277.55px;transform:scaleX(0.914)">D</i></div>
<div class="t" style="left:282.40px;top:878px;width:300px;text-align:right;transform:scaleX(0.9480);transform-origin:100% 0">$1,935,000</div>
<div class="t" style="left:463.60px;top:878px;width:300px;text-align:right;transform:scaleX(0.9480);transform-origin:100% 0">$1,940,000</div>
<div class="t" style="left:737.00px;top:878px;width:200px;text-align:center;transform:scaleX(0.9700);transform-origin:50% 0">7</div>
<div class="t" style="left:849.00px;top:878px;width:200px;text-align:center;transform:scaleX(0.9700);transform-origin:50% 0">3</div>
<div class="t" style="left:957.00px;top:878px;width:200px;text-align:center;transform:scaleX(0.9500);transform-origin:50% 0">1,791</div>
<div class="t" style="left:1062.05px;top:878px;width:200px;text-align:center;transform:scaleX(0.9700);transform-origin:50% 0">4</div>
</div></body></html>
